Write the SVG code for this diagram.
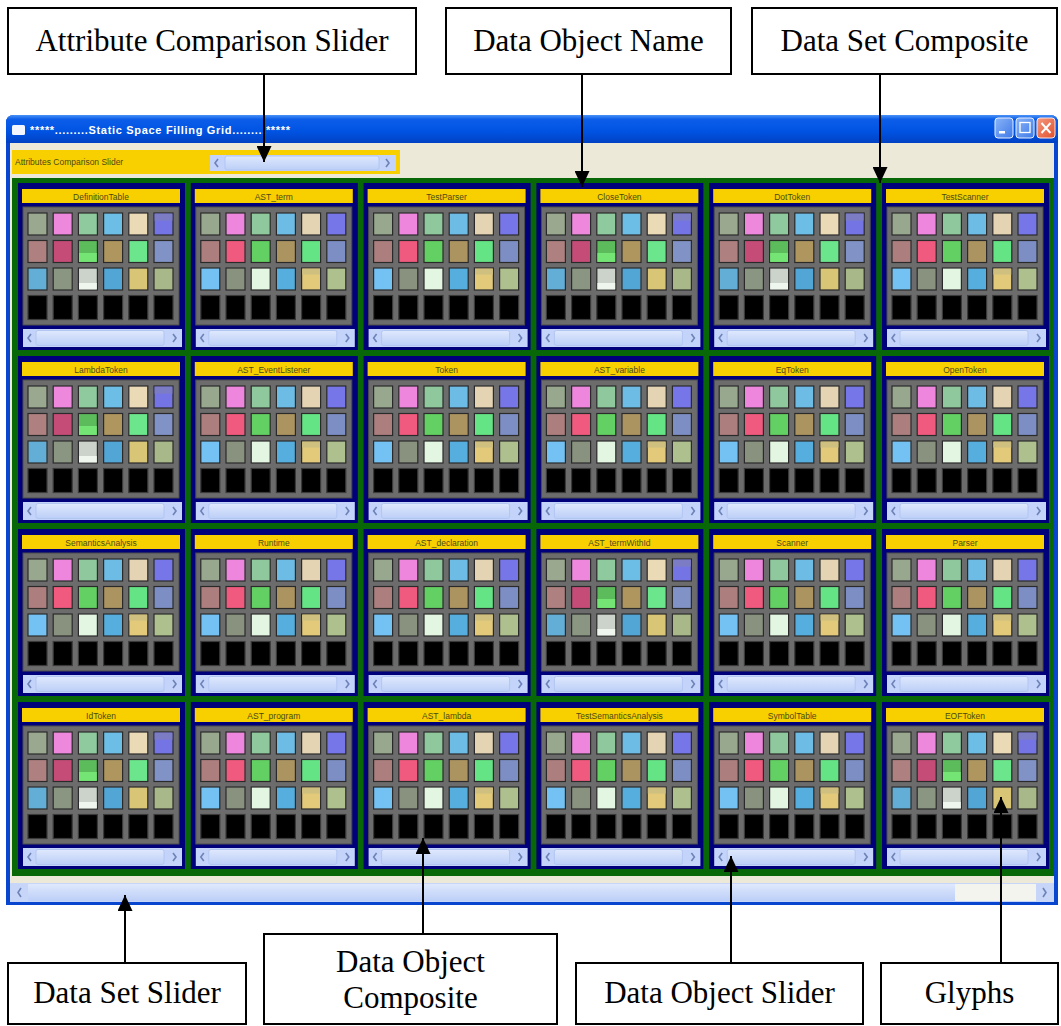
<svg xmlns="http://www.w3.org/2000/svg" xmlns:xlink="http://www.w3.org/1999/xlink" width="1061" height="1026" viewBox="0 0 1061 1026">
  <style>
    .lbl-box { fill: #ffffff; stroke: #000000; stroke-width: 2; }
    .lbl-txt { font-family: "Liberation Serif", "Times New Roman", serif; font-size: 31px; fill: #000000; text-anchor: middle; }
    .conn { stroke: #000000; stroke-width: 2; fill: none; marker-end: url(#arrow); }
    .cell-title { font-family: "Liberation Sans", Arial, sans-serif; font-size: 8.5px; fill: #4a4a14; text-anchor: middle; }
    .gl { stroke: #2a2a2a; stroke-width: 1.2; }
    .blk { fill: #000000; stroke: #3a3a3a; stroke-width: 1.2; }
    .chev { fill: none; stroke: #6d82b6; stroke-width: 1.6; }
  </style>
  <defs>
    <marker id="arrow" markerUnits="userSpaceOnUse" markerWidth="16" markerHeight="15" refX="16" refY="7.5" orient="auto">
      <path d="M0,0 L16,7.5 L0,15 z" fill="#000000"/>
    </marker>
    <linearGradient id="titleGrad" x1="0" y1="0" x2="0" y2="1">
      <stop offset="0" stop-color="#4a92f8"/>
      <stop offset="0.15" stop-color="#0c5ee9"/>
      <stop offset="0.6" stop-color="#0053e2"/>
      <stop offset="1" stop-color="#0041c4"/>
    </linearGradient>
    <linearGradient id="btnBlue" x1="0" y1="0" x2="1" y2="1">
      <stop offset="0" stop-color="#8ab4f8"/>
      <stop offset="1" stop-color="#3f7ae8"/>
    </linearGradient>
    <linearGradient id="btnRed" x1="0" y1="0" x2="1" y2="1">
      <stop offset="0" stop-color="#f59a80"/>
      <stop offset="1" stop-color="#e0502c"/>
    </linearGradient>
    <linearGradient id="scrollGrad" x1="0" y1="0" x2="0" y2="1">
      <stop offset="0" stop-color="#dfe8fd"/>
      <stop offset="1" stop-color="#bccff7"/>
    </linearGradient>

    <!-- cell frame: navy panel, name bar, glyph panel, empty row, scrollbar -->
    <g id="frame">
      <rect width="167" height="167" fill="#00007a"/>
      <rect x="4" y="6" width="158" height="14" fill="#f8d000"/>
      <rect x="5" y="24" width="156" height="118" fill="#6c6c6c" stroke="#4c4c4c"/>
      <rect class="blk" x="10" y="112.5" width="19" height="24"/>
      <rect class="blk" x="35.2" y="112.5" width="19" height="24"/>
      <rect class="blk" x="60.4" y="112.5" width="19" height="24"/>
      <rect class="blk" x="85.6" y="112.5" width="19" height="24"/>
      <rect class="blk" x="110.8" y="112.5" width="19" height="24"/>
      <rect class="blk" x="136" y="112.5" width="19" height="24"/>
      <rect x="5" y="146" width="159" height="18" fill="#c3d3f9"/>
      <rect x="18" y="147.5" width="128" height="15" rx="2" fill="url(#scrollGrad)" stroke="#b2c6f2"/>
      <path class="chev" d="M13,151 L10,155 L13,159"/>
      <path class="chev" d="M155,151 L158,155 L155,159"/>
    </g>

    <!-- glyph grid, darker palette -->
    <g id="glyphsA">
      <rect class="gl" x="10" y="30" width="19" height="22" fill="#9aa890"/>
      <rect class="gl" x="35.2" y="30" width="19" height="22" fill="#ee88dc"/>
      <rect class="gl" x="60.4" y="30" width="19" height="22" fill="#8eca9e"/>
      <rect class="gl" x="85.6" y="30" width="19" height="22" fill="#6cbee6"/>
      <rect class="gl" x="110.8" y="30" width="19" height="22" fill="#eadab6"/>
      <rect class="gl" x="136" y="30" width="19" height="22" fill="#7474e4"/>
      <rect x="136.6" y="30.6" width="17.8" height="7" fill="#7c7cc4"/>
      <rect class="gl" x="10" y="57.5" width="19" height="22" fill="#ae8080"/>
      <rect class="gl" x="35.2" y="57.5" width="19" height="22" fill="#c44c76"/>
      <rect class="gl" x="60.4" y="57.5" width="19" height="22" fill="#5cbc5c"/>
      <rect x="61" y="70" width="17.8" height="8.9" fill="#74e474"/>
      <rect class="gl" x="85.6" y="57.5" width="19" height="22" fill="#ae965e"/>
      <rect class="gl" x="110.8" y="57.5" width="19" height="22" fill="#6ce68c"/>
      <rect class="gl" x="136" y="57.5" width="19" height="22" fill="#8092c6"/>
      <rect class="gl" x="10" y="85" width="19" height="22" fill="#62aed6"/>
      <rect class="gl" x="35.2" y="85" width="19" height="22" fill="#8a9682"/>
      <rect class="gl" x="60.4" y="85" width="19" height="22" fill="#cbd3cb"/>
      <rect x="61" y="100" width="17.8" height="6.4" fill="#eef6ee"/>
      <rect class="gl" x="85.6" y="85" width="19" height="22" fill="#52a6d6"/>
      <rect class="gl" x="110.8" y="85" width="19" height="22" fill="#d8c676"/>
      <rect class="gl" x="136" y="85" width="19" height="22" fill="#a8b888"/>
    </g>

    <!-- glyph grid, brighter palette -->
    <g id="glyphsB">
      <rect class="gl" x="10" y="30" width="19" height="22" fill="#98a88e"/>
      <rect class="gl" x="35.2" y="30" width="19" height="22" fill="#ee86de"/>
      <rect class="gl" x="60.4" y="30" width="19" height="22" fill="#90c89e"/>
      <rect class="gl" x="85.6" y="30" width="19" height="22" fill="#6cbce6"/>
      <rect class="gl" x="110.8" y="30" width="19" height="22" fill="#e4d4b4"/>
      <rect class="gl" x="136" y="30" width="19" height="22" fill="#7676e8"/>
      <rect class="gl" x="10" y="57.5" width="19" height="22" fill="#ac7e7e"/>
      <rect class="gl" x="35.2" y="57.5" width="19" height="22" fill="#f05a7e"/>
      <rect class="gl" x="60.4" y="57.5" width="19" height="22" fill="#62d062"/>
      <rect class="gl" x="85.6" y="57.5" width="19" height="22" fill="#ac9460"/>
      <rect class="gl" x="110.8" y="57.5" width="19" height="22" fill="#64e484"/>
      <rect class="gl" x="136" y="57.5" width="19" height="22" fill="#7c8ec4"/>
      <rect class="gl" x="10" y="85" width="19" height="22" fill="#74c2f4"/>
      <rect class="gl" x="35.2" y="85" width="19" height="22" fill="#88927e"/>
      <rect class="gl" x="60.4" y="85" width="19" height="22" fill="#e2f6e2"/>
      <rect class="gl" x="85.6" y="85" width="19" height="22" fill="#56aede"/>
      <rect class="gl" x="110.8" y="85" width="19" height="22" fill="#e2ca7a"/>
      <rect x="111.4" y="85.6" width="17.8" height="6" fill="#cfc080"/>
      <rect class="gl" x="136" y="85" width="19" height="22" fill="#aec08e"/>
    </g>
  </defs>

  <rect width="1061" height="1026" fill="#ffffff"/>

  <!-- application window -->
  <g id="window">
    <path d="M6,123 Q6,115 14,115 L1050,115 Q1058,115 1058,123 L1058,905 L6,905 Z" fill="#0846d0"/>
    <path d="M6,123 Q6,115 14,115 L1050,115 Q1058,115 1058,123 L1058,143 L6,143 Z" fill="url(#titleGrad)"/>
    <rect x="12" y="125" width="13" height="10" rx="1.5" fill="#f4f6ff"/>
    <text x="30" y="134" textLength="260" lengthAdjust="spacing" font-family="'Liberation Sans', Arial, sans-serif" font-size="11" font-weight="bold" fill="#ffffff">*****.........Static Space Filling Grid.........*****</text>
    <rect x="995" y="118" width="18" height="20" rx="3" fill="url(#btnBlue)" stroke="#e8f0ff"/>
    <rect x="999" y="131" width="6" height="2.5" fill="#ffffff"/>
    <rect x="1016" y="118" width="18" height="20" rx="3" fill="url(#btnBlue)" stroke="#e8f0ff"/>
    <rect x="1020" y="122.5" width="10" height="10" fill="none" stroke="#ffffff" stroke-width="1.3"/>
    <rect x="1037" y="118" width="18" height="20" rx="3" fill="url(#btnRed)" stroke="#ffe8e0"/>
    <path d="M1041.5,123 L1050.5,133 M1050.5,123 L1041.5,133" stroke="#ffffff" stroke-width="2"/>
    <rect x="10" y="143" width="1044" height="759" fill="#ece9d8"/>
  </g>

  <!-- attribute comparison bar -->
  <g id="attribute-slider">
    <rect x="12" y="150" width="388" height="24" fill="#f8d000"/>
    <text x="15" y="165" font-family="'Liberation Sans', Arial, sans-serif" font-size="8.5" fill="#4a4a14">Attributes Comparison Slider</text>
    <rect x="210" y="155" width="186" height="16" fill="#c3d3f9"/>
    <rect x="225" y="156" width="154" height="14" rx="2" fill="url(#scrollGrad)" stroke="#b2c6f2"/>
    <path class="chev" d="M218,159 L215,163 L218,167"/>
    <path class="chev" d="M386,159 L389,163 L386,167"/>
  </g>

  <!-- data set composite -->
  <g id="data-set">
    <rect x="12" y="178" width="1042" height="698" fill="#086808"/>

    <g id="cell-DefinitionTable" transform="translate(18,183)"><use href="#frame"/><use href="#glyphsA"/><text class="cell-title" x="83" y="16.5">DefinitionTable</text></g>
    <g id="cell-AST_term" transform="translate(190.8,183)"><use href="#frame"/><use href="#glyphsB"/><text class="cell-title" x="83" y="16.5">AST_term</text></g>
    <g id="cell-TestParser" transform="translate(363.6,183)"><use href="#frame"/><use href="#glyphsB"/><text class="cell-title" x="83" y="16.5">TestParser</text></g>
    <g id="cell-CloseToken" transform="translate(536.4,183)"><use href="#frame"/><use href="#glyphsA"/><text class="cell-title" x="83" y="16.5">CloseToken</text></g>
    <g id="cell-DotToken" transform="translate(709.2,183)"><use href="#frame"/><use href="#glyphsA"/><text class="cell-title" x="83" y="16.5">DotToken</text></g>
    <g id="cell-TestScanner" transform="translate(882,183)"><use href="#frame"/><use href="#glyphsB"/><text class="cell-title" x="83" y="16.5">TestScanner</text></g>

    <g id="cell-LambdaToken" transform="translate(18,356)"><use href="#frame"/><use href="#glyphsA"/><text class="cell-title" x="83" y="16.5">LambdaToken</text></g>
    <g id="cell-AST_EventListener" transform="translate(190.8,356)"><use href="#frame"/><use href="#glyphsB"/><text class="cell-title" x="83" y="16.5">AST_EventListener</text></g>
    <g id="cell-Token" transform="translate(363.6,356)"><use href="#frame"/><use href="#glyphsB"/><text class="cell-title" x="83" y="16.5">Token</text></g>
    <g id="cell-AST_variable" transform="translate(536.4,356)"><use href="#frame"/><use href="#glyphsB"/><text class="cell-title" x="83" y="16.5">AST_variable</text></g>
    <g id="cell-EqToken" transform="translate(709.2,356)"><use href="#frame"/><use href="#glyphsB"/><text class="cell-title" x="83" y="16.5">EqToken</text></g>
    <g id="cell-OpenToken" transform="translate(882,356)"><use href="#frame"/><use href="#glyphsB"/><text class="cell-title" x="83" y="16.5">OpenToken</text></g>

    <g id="cell-SemanticsAnalysis" transform="translate(18,529)"><use href="#frame"/><use href="#glyphsB"/><text class="cell-title" x="83" y="16.5">SemanticsAnalysis</text></g>
    <g id="cell-Runtime" transform="translate(190.8,529)"><use href="#frame"/><use href="#glyphsB"/><text class="cell-title" x="83" y="16.5">Runtime</text></g>
    <g id="cell-AST_declaration" transform="translate(363.6,529)"><use href="#frame"/><use href="#glyphsB"/><text class="cell-title" x="83" y="16.5">AST_declaration</text></g>
    <g id="cell-AST_termWithId" transform="translate(536.4,529)"><use href="#frame"/><use href="#glyphsA"/><text class="cell-title" x="83" y="16.5">AST_termWithId</text></g>
    <g id="cell-Scanner" transform="translate(709.2,529)"><use href="#frame"/><use href="#glyphsB"/><text class="cell-title" x="83" y="16.5">Scanner</text></g>
    <g id="cell-Parser" transform="translate(882,529)"><use href="#frame"/><use href="#glyphsB"/><text class="cell-title" x="83" y="16.5">Parser</text></g>

    <g id="cell-IdToken" transform="translate(18,702)"><use href="#frame"/><use href="#glyphsA"/><text class="cell-title" x="83" y="16.5">IdToken</text></g>
    <g id="cell-AST_program" transform="translate(190.8,702)"><use href="#frame"/><use href="#glyphsB"/><text class="cell-title" x="83" y="16.5">AST_program</text></g>
    <g id="cell-AST_lambda" transform="translate(363.6,702)"><use href="#frame"/><use href="#glyphsB"/><text class="cell-title" x="83" y="16.5">AST_lambda</text></g>
    <g id="cell-TestSemanticsAnalysis" transform="translate(536.4,702)"><use href="#frame"/><use href="#glyphsB"/><text class="cell-title" x="83" y="16.5">TestSemanticsAnalysis</text></g>
    <g id="cell-SymbolTable" transform="translate(709.2,702)"><use href="#frame"/><use href="#glyphsB"/><text class="cell-title" x="83" y="16.5">SymbolTable</text></g>
    <g id="cell-EOFToken" transform="translate(882,702)"><use href="#frame"/><use href="#glyphsA"/><text class="cell-title" x="83" y="16.5">EOFToken</text></g>
  </g>

  <!-- data set scrollbar -->
  <g id="data-set-slider">
    <rect x="10" y="883" width="1044" height="19" fill="#c6d5f8"/>
    <rect x="28" y="884" width="927" height="17" fill="url(#scrollGrad)"/>
    <rect x="955" y="884" width="81" height="17" fill="#f4f4ee"/>
    <path class="chev" d="M21,888 L18,892.5 L21,897"/>
    <path class="chev" d="M1043,888 L1046,892.5 L1043,897"/>
  </g>

  <!-- callout labels -->
  <g id="label-attribute-comparison-slider">
    <rect class="lbl-box" x="8" y="8" width="408" height="66"/>
    <text class="lbl-txt" x="212" y="51">Attribute Comparison Slider</text>
  </g>
  <g id="label-data-object-name">
    <rect class="lbl-box" x="446" y="8" width="285" height="66"/>
    <text class="lbl-txt" x="588.5" y="51">Data Object Name</text>
  </g>
  <g id="label-data-set-composite">
    <rect class="lbl-box" x="752" y="8" width="305" height="66"/>
    <text class="lbl-txt" x="904.5" y="51">Data Set Composite</text>
  </g>
  <g id="label-data-set-slider">
    <rect class="lbl-box" x="8" y="963" width="238" height="61"/>
    <text class="lbl-txt" x="127" y="1003">Data Set Slider</text>
  </g>
  <g id="label-data-object-composite">
    <rect class="lbl-box" x="264" y="934" width="293" height="90"/>
    <text class="lbl-txt" x="410.5" y="972">Data Object</text>
    <text class="lbl-txt" x="410.5" y="1008">Composite</text>
  </g>
  <g id="label-data-object-slider">
    <rect class="lbl-box" x="576" y="963" width="287" height="61"/>
    <text class="lbl-txt" x="719.5" y="1003">Data Object Slider</text>
  </g>
  <g id="label-glyphs">
    <rect class="lbl-box" x="881" y="963" width="177" height="61"/>
    <text class="lbl-txt" x="969.5" y="1003">Glyphs</text>
  </g>

  <!-- connectors -->
  <g id="connectors">
    <line class="conn" x1="264" y1="74" x2="264" y2="162"/>
    <line class="conn" x1="582" y1="74" x2="582" y2="187"/>
    <line class="conn" x1="880" y1="74" x2="880" y2="183"/>
    <line class="conn" x1="125" y1="963" x2="125" y2="895"/>
    <line class="conn" x1="423" y1="934" x2="423" y2="838"/>
    <line class="conn" x1="731" y1="963" x2="731" y2="856"/>
    <line class="conn" x1="1001" y1="963" x2="1001" y2="797"/>
  </g>
</svg>
